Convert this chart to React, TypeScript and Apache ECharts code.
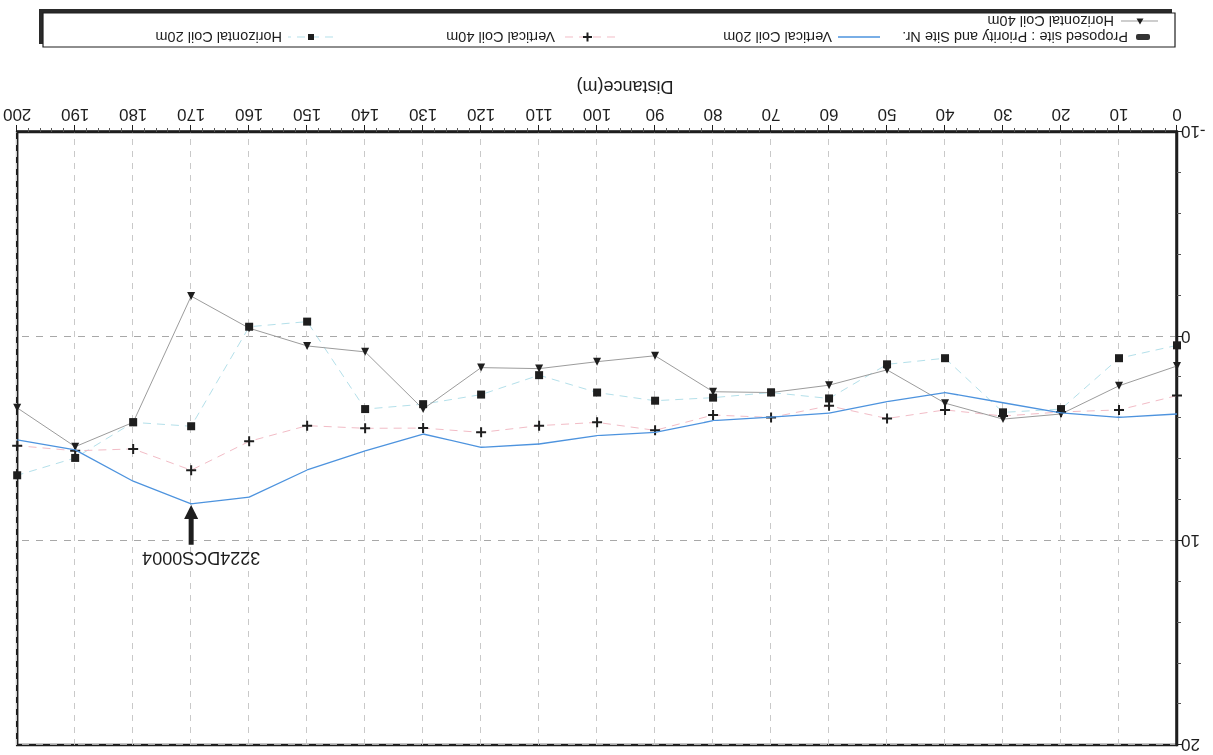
import React, { useEffect, useRef } from "react";
import * as echarts from "echarts";

// Survey distances along the traverse (m)
const distances = [0, 10, 20, 30, 40, 50, 60, 70, 80, 90, 100, 110, 120, 130, 140, 150, 160, 170, 180, 190, 200];

// Readings per coil configuration
const verticalCoil20 = [3.8, 3.97, 3.75, 3.25, 2.75, 3.2, 3.76, 3.95, 4.13, 4.7, 4.86, 5.27, 5.43, 4.78, 5.6, 6.54, 7.87, 8.2, 7.09, 5.56, 5.07];
const verticalCoil40 = [2.9, 3.6, 3.7, 3.9, 3.6, 4.02, 3.4, 3.97, 3.85, 4.6, 4.21, 4.37, 4.7, 4.49, 4.5, 4.37, 5.14, 6.55, 5.51, 5.6, 5.35];
const horizontalCoil20 = [0.44, 1.07, 3.56, 3.72, 1.07, 1.37, 3.04, 2.75, 3.0, 3.15, 2.75, 1.9, 2.85, 3.32, 3.56, -0.72, -0.47, 4.4, 4.21, 5.95, 6.8];
const horizontalCoil40 = [1.45, 2.42, 3.8, 4.05, 3.27, 1.64, 2.39, 2.75, 2.71, 0.95, 1.24, 1.58, 1.53, 3.56, 0.76, 0.47, -0.4, -1.97, 4.21, 5.4, 3.5];

// Proposed site marker
const siteLabel = "3224DCS0004";
const siteDistance = 170;

const legendNames = {
  site: "Proposed site : Priority and Site Nr.",
  vc20: "Vertical Coil 20m",
  vc40: "Vertical Coil 40m",
  hc20: "Horizontal Coil 20m",
  hc40: "Horizontal Coil 40m",
};

const FONT = "'Liberation Sans', Arial, sans-serif";
const INK = "#1e1e1e";
const PLUS = "path://M4,0H6V4H10V6H6V10H4V6H0V4H4Z";

const pairs = (ys: number[]) => distances.map((d, i) => [d, ys[i]]);

export default function App() {
  const ref = useRef<HTMLDivElement>(null);

  useEffect(() => {
    if (!ref.current) return;
    const chart = echarts.init(ref.current, null, { renderer: "svg" });

    chart.setOption({
      animation: false,
      backgroundColor: "#ffffff",
      grid: {
        left: 36,
        right: 16,
        top: 10,
        bottom: 132,
        show: true,
        borderColor: INK,
        borderWidth: 2.5,
      },
      xAxis: {
        type: "value",
        min: 0,
        max: 200,
        interval: 10,
        axisLine: { show: true, onZero: false, lineStyle: { color: INK, width: 2.5 } },
        axisTick: { show: true, length: 7, lineStyle: { color: INK, width: 1 } },
        minorTick: { show: true, splitNumber: 5, length: 4, lineStyle: { color: "#555" } },
        axisLabel: { color: INK, fontFamily: FONT, fontSize: 17, margin: 9 },
        splitLine: { show: true, lineStyle: { color: "#c9c9c9", type: [6, 6], width: 1 } },
      },
      yAxis: {
        type: "value",
        min: -10,
        max: 20,
        interval: 10,
        axisLine: { show: true, onZero: false, lineStyle: { color: INK, width: 2.5 } },
        axisTick: { show: true, length: 5, lineStyle: { color: INK } },
        minorTick: { show: true, splitNumber: 5, length: 4, lineStyle: { color: "#555" } },
        axisLabel: { color: INK, fontFamily: FONT, fontSize: 17, margin: 4 },
        splitLine: { show: true, lineStyle: { color: "#a8a8a8", type: [7, 7], width: 1 } },
      },
      series: [
        {
          name: legendNames.hc20,
          type: "line",
          data: pairs(horizontalCoil20),
          symbol: "rect",
          symbolSize: 8,
          itemStyle: { color: INK },
          lineStyle: { color: "#b4e0ea", width: 1, type: [8, 6] },
          z: 3,
        },
        {
          name: legendNames.vc40,
          type: "line",
          data: pairs(verticalCoil40),
          symbol: PLUS,
          symbolSize: 10,
          itemStyle: { color: INK },
          lineStyle: { color: "#f2bcc6", width: 1, type: [8, 6] },
          z: 3,
        },
        {
          name: legendNames.hc40,
          type: "line",
          data: pairs(horizontalCoil40),
          symbol: "triangle",
          symbolSize: 8,
          itemStyle: { color: INK },
          lineStyle: { color: "#9c9c9c", width: 1 },
          z: 3,
        },
        {
          name: legendNames.vc20,
          type: "line",
          data: pairs(verticalCoil20),
          showSymbol: false,
          symbol: "none",
          lineStyle: { color: "#4d93de", width: 1.3 },
          z: 4,
        },
      ],
    });

    // Arrow and label for the proposed site, anchored on the Vertical Coil 20m reading
    const siteValue = verticalCoil20[distances.indexOf(siteDistance)];
    const head = chart.convertToPixel({ gridIndex: 0 }, [siteDistance, siteValue]) as number[];
    const tail = chart.convertToPixel({ gridIndex: 0 }, [siteDistance, siteValue + 2]) as number[];

    const text = (x: number, y: number, s: string, size = 14.5, align = "left") => ({
      type: "text",
      x,
      y,
      style: { text: s, fill: INK, font: `${size}px ${FONT}`, textAlign: align, textVerticalAlign: "middle" },
      z: 20,
    });

    const row1 = 718;
    const row2 = 734;

    chart.setOption({
      graphic: [
        // axis title
        text(588, 668, "Distance(m)", 18, "center"),
        // site annotation
        {
          type: "line",
          shape: { x1: tail[0], y1: tail[1], x2: head[0], y2: head[1] - 12 },
          style: { stroke: INK, lineWidth: 5 },
          z: 20,
        },
        {
          type: "polygon",
          shape: { points: [[head[0], head[1] - 1], [head[0] - 7, head[1] - 15], [head[0] + 7, head[1] - 15]] },
          style: { fill: INK },
          z: 20,
        },
        text(head[0] - 10, tail[1] - 13, siteLabel, 18, "center"),
        // legend frame with shadow
        { type: "rect", shape: { x: 41, y: 711, width: 1133, height: 35 }, style: { fill: "#2a2a2a" }, z: 18 },
        { type: "rect", shape: { x: 38, y: 708, width: 1132, height: 34 }, style: { fill: "#ffffff", stroke: INK, lineWidth: 1.2 }, z: 19 },
        // proposed site
        { type: "rect", shape: { x: 63, y: row1 - 3, width: 14, height: 6, r: 2 }, style: { fill: "#333" }, z: 20 },
        text(85, row1, legendNames.site),
        // vertical coil 20m
        { type: "line", shape: { x1: 333, y1: row1, x2: 375, y2: row1 }, style: { stroke: "#4d93de", lineWidth: 1.3 }, z: 20 },
        text(381, row1, legendNames.vc20),
        // vertical coil 40m
        { type: "line", shape: { x1: 598, y1: row1, x2: 650, y2: row1 }, style: { stroke: "#f2bcc6", lineWidth: 1, lineDash: [8, 6] }, z: 20 },
        { type: "rect", shape: { x: 621, y: row1 - 1, width: 9, height: 2 }, style: { fill: INK }, z: 21 },
        { type: "rect", shape: { x: 624.5, y: row1 - 4.5, width: 2, height: 9 }, style: { fill: INK }, z: 21 },
        text(658, row1, legendNames.vc40),
        // horizontal coil 20m
        { type: "line", shape: { x1: 880, y1: row1, x2: 925, y2: row1 }, style: { stroke: "#b4e0ea", lineWidth: 1, lineDash: [8, 6] }, z: 20 },
        { type: "rect", shape: { x: 899, y: row1 - 3, width: 6, height: 6 }, style: { fill: INK }, z: 21 },
        text(931, row1, legendNames.hc20),
        // horizontal coil 40m
        { type: "line", shape: { x1: 55, y1: row2, x2: 92, y2: row2 }, style: { stroke: "#9c9c9c", lineWidth: 1 }, z: 20 },
        { type: "polygon", shape: { points: [[73, row2 - 3.5], [69.5, row2 + 2.5], [76.5, row2 + 2.5]] }, style: { fill: INK }, z: 21 },
        text(99, row2, legendNames.hc40),
      ],
    });

    return () => chart.dispose();
  }, []);

  return (
    <div
      style={{
        position: "fixed",
        left: 0,
        top: 0,
        width: 1213,
        height: 755,
        background: "#ffffff",
        transform: "rotate(180deg)",
      }}
    >
      <div ref={ref} style={{ width: 1213, height: 755 }} />
    </div>
  );
}
